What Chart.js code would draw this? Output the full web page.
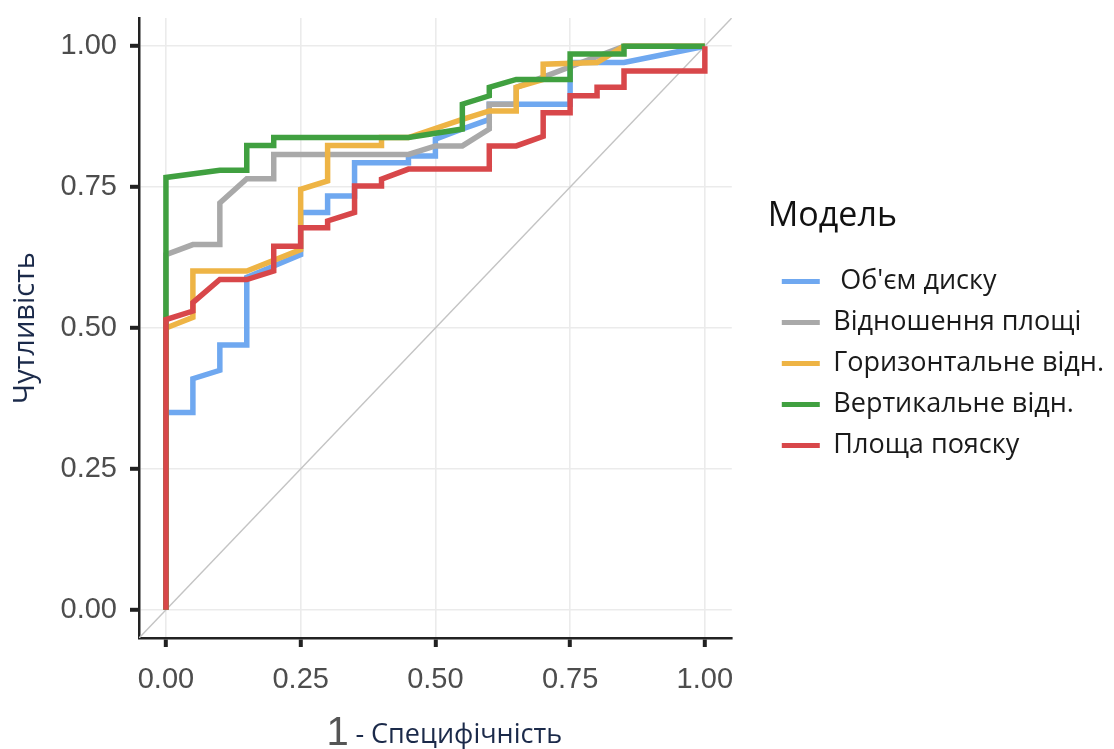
<!DOCTYPE html>
<html>
<head>
<meta charset="utf-8">
<script src="https://cdn.jsdelivr.net/npm/chart.js@4.4.1/dist/chart.umd.min.js"></script>
<style>
  html, body { margin: 0; padding: 0; background: #fff; }
</style>
</head>
<body>
<canvas id="roc" width="1114" height="749"></canvas>
<script>
// ROC curves for the five models
const modelNames = [" Об'єм диску", "Відношення площі", "Горизонтальне відн.", "Вертикальне відн.", "Площа пояску"];
const modelColors = ["#6fa8f0", "#a9a9a9", "#eeb445", "#40a040", "#d8474a"];

const volumeFpr = [0, 0, 0.05, 0.05, 0.10, 0.10, 0.15, 0.15, 0.25, 0.25, 0.30, 0.30, 0.35, 0.35, 0.45, 0.45, 0.50, 0.50, 0.55, 0.60, 0.60, 0.75, 0.75, 0.85, 1.00];
const volumeTpr = [0, 0.35, 0.35, 0.41, 0.425, 0.47, 0.47, 0.59, 0.63, 0.705, 0.705, 0.734, 0.734, 0.793, 0.793, 0.805, 0.805, 0.835, 0.853, 0.87, 0.897, 0.897, 0.971, 0.971, 1.00];

const areaRatioFpr = [0, 0, 0.05, 0.10, 0.10, 0.15, 0.20, 0.20, 0.45, 0.50, 0.55, 0.60, 0.60, 0.65, 0.65, 0.85, 1.00];
const areaRatioTpr = [0, 0.63, 0.648, 0.648, 0.722, 0.765, 0.765, 0.808, 0.808, 0.823, 0.823, 0.853, 0.897, 0.897, 0.927, 1.00, 1.00];

const horizFpr = [0, 0, 0.05, 0.05, 0.15, 0.25, 0.25, 0.30, 0.30, 0.40, 0.40, 0.45, 0.55, 0.60, 0.65, 0.65, 0.70, 0.70, 0.80, 0.85, 1.00];
const horizTpr = [0, 0.50, 0.519, 0.601, 0.601, 0.639, 0.746, 0.761, 0.824, 0.824, 0.838, 0.838, 0.87, 0.885, 0.885, 0.927, 0.941, 0.968, 0.971, 1.00, 1.00];

const vertFpr = [0, 0, 0.10, 0.15, 0.15, 0.20, 0.20, 0.45, 0.55, 0.55, 0.60, 0.60, 0.65, 0.75, 0.75, 0.85, 0.85, 1.00];
const vertTpr = [0, 0.767, 0.78, 0.78, 0.824, 0.824, 0.838, 0.838, 0.853, 0.897, 0.912, 0.927, 0.941, 0.941, 0.986, 0.986, 1.00, 1.00];

const beltFpr = [0, 0, 0.05, 0.05, 0.10, 0.15, 0.20, 0.20, 0.25, 0.25, 0.30, 0.30, 0.35, 0.35, 0.40, 0.40, 0.45, 0.60, 0.60, 0.65, 0.70, 0.70, 0.75, 0.75, 0.80, 0.80, 0.85, 0.85, 1.00, 1.00];
const beltTpr = [0, 0.515, 0.53, 0.545, 0.586, 0.586, 0.601, 0.645, 0.645, 0.678, 0.678, 0.69, 0.705, 0.752, 0.752, 0.764, 0.782, 0.782, 0.823, 0.823, 0.84, 0.882, 0.882, 0.912, 0.912, 0.927, 0.927, 0.956, 0.956, 1.00];

// chance line, drawn across the whole panel
const chanceLine = [-0.05, 1.05];
const tickValues = [0, 0.25, 0.5, 0.75, 1];

const curves = [
  [volumeFpr, volumeTpr],
  [areaRatioFpr, areaRatioTpr],
  [horizFpr, horizTpr],
  [vertFpr, vertTpr],
  [beltFpr, beltTpr]
];

const TICKFONT = '"Liberation Sans", Arial, sans-serif';
const TEXT = '"Open Sans", "Noto Sans", sans-serif';

function toPoints(xs, ys) {
  return xs.map((x, i) => ({ x: x, y: ys[i] }));
}

const datasets = curves.map((c, i) => ({
  label: modelNames[i],
  data: toPoints(c[0], c[1]),
  borderColor: modelColors[i],
  backgroundColor: modelColors[i],
  borderWidth: 5.5,
  borderJoinStyle: "miter",
  order: modelNames.length - i   // later models sit on top
}));

datasets.push({
  label: "",
  data: toPoints(chanceLine, chanceLine),
  borderColor: "#c4c4c4",
  borderWidth: 1.5,
  order: 10
});

// axis title under the x axis, two fonts
const xTitlePlugin = {
  id: "xTitle",
  afterDraw(chart) {
    const { ctx, chartArea } = chart;
    const x0 = (chartArea.left + chartArea.right) / 2 - 109;
    ctx.save();
    ctx.textBaseline = "alphabetic";
    ctx.textAlign = "left";
    ctx.font = "40px " + TICKFONT;
    ctx.fillStyle = "#555555";
    ctx.fillText("1", x0, 745);
    ctx.font = "27px " + TEXT;
    ctx.fillStyle = "#1b2a4a";
    ctx.fillText("- Специфічність", x0 + 29, 743);
    ctx.restore();
  }
};

function axisTicks(axis) {
  axis.ticks = tickValues.map(v => ({ value: v }));
}

const gridOpts = {
  color: "#ebebeb",
  lineWidth: 1.6,
  tickColor: "#222222",
  tickWidth: 4,
  tickLength: 9
};

new Chart(document.getElementById("roc"), {
  type: "line",
  data: { datasets: datasets },
  options: {
    responsive: false,
    animation: false,
    layout: { padding: { top: 18, left: 0, right: 0, bottom: 0 } },
    elements: { point: { radius: 0 }, line: { tension: 0 } },
    scales: {
      x: {
        type: "linear",
        min: -0.05,
        max: 1.05,
        afterBuildTicks: axisTicks,
        afterFit: s => { s.height = 111; },
        grid: gridOpts,
        border: { color: "#222222", width: 2.5 },
        ticks: {
          color: "#4d4d4d",
          padding: 18,
          autoSkip: false,
          maxRotation: 0,
          font: { family: TICKFONT, size: 29, lineHeight: 1 },
          callback: v => v.toFixed(2)
        }
      },
      y: {
        type: "linear",
        min: -0.05,
        max: 1.05,
        afterBuildTicks: axisTicks,
        afterFit: s => { s.width = 139; },
        grid: gridOpts,
        border: { color: "#222222", width: 2.5 },
        ticks: {
          color: "#4d4d4d",
          padding: 13,
          autoSkip: false,
          // small line height keeps the top label from pushing the plot down
          font: { family: TICKFONT, size: 29, lineHeight: 0.3 },
          callback: v => v.toFixed(2)
        },
        title: {
          display: true,
          text: "Чутливість",
          color: "#1b2a4a",
          font: { family: TEXT, size: 29 },
          padding: { top: 8, bottom: 0 }
        }
      },
      gap: {
        type: "linear",
        position: "right",
        grid: { display: false, drawTicks: false },
        ticks: { display: false },
        border: { display: false },
        afterFit: s => { s.width = 36; }
      }
    },
    plugins: {
      tooltip: { enabled: false },
      legend: {
        position: "right",
        align: "center",
        fullSize: false,
        maxWidth: 420,
        title: {
          display: true,
          text: "Модель",
          color: "#111111",
          position: "start",
          font: { family: TEXT, size: 34 },
          padding: { top: 16, bottom: 14 }
        },
        labels: {
          boxWidth: 38,
          boxHeight: 5,
          padding: 14,
          color: "#1a1a1a",
          font: { family: TEXT, size: 27 },
          filter: item => item.datasetIndex < modelNames.length,
          sort: (a, b) => a.datasetIndex - b.datasetIndex,
          generateLabels(chart) {
            const items = Chart.defaults.plugins.legend.labels.generateLabels(chart);
            items.forEach(it => { it.lineWidth = 0; });
            return items;
          }
        }
      }
    }
  },
  plugins: [xTitlePlugin]
});
</script>
</body>
</html>
